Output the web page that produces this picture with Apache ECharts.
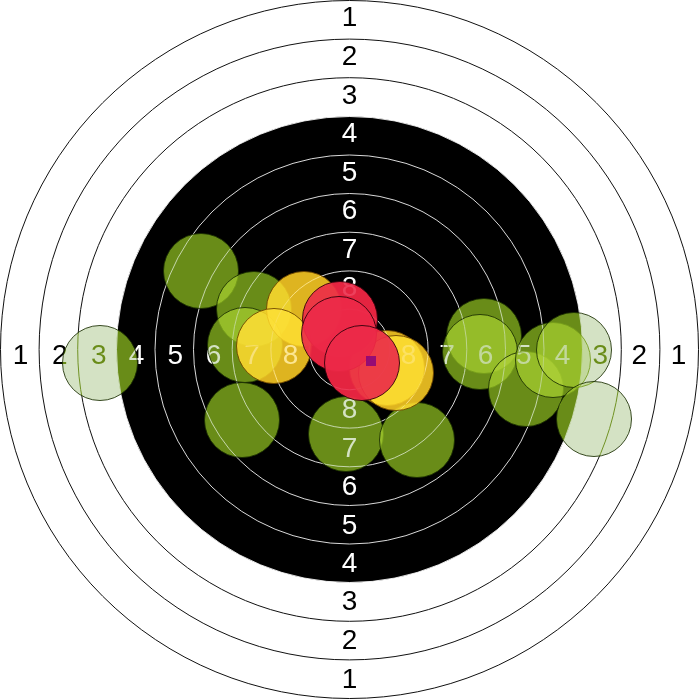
<!DOCTYPE html>
<html>
<head>
<meta charset="utf-8">
<script src="https://cdn.jsdelivr.net/npm/echarts/dist/echarts.min.js"></script>
<style>
html,body{margin:0;padding:0;background:#fff;}
#chart{width:700px;height:700px;}
</style>
</head>
<body>
<div id="chart"></div>
<script>
// ---- target geometry (target units, centre = 0,0) ----
const ringScores = [1, 2, 3, 4, 5, 6, 7, 8, 9];
const ringRadii = [349, 310.4, 271.8, 233, 194.5, 156, 117.3, 78.6, 40.3];
const blackRadius = 233;
const labelScores = ['1', '2', '3', '4', '5', '6', '7', '8'];
const labelRadii = [329, 289.8, 250.8, 213, 174.3, 136, 97.5, 59];

// ---- shots (x right, y up) ----
const greenShots = [
  [-148.5, 78.5], [-95.5, 40.5], [-104.5, 4.5], [-107.5, -70.5],
  [-3.5, -84.5], [67.5, -90.5], [134.5, 13.5], [130.5, -2.5],
  [176.5, -39.5], [203.5, -10.5],
  [-249.5, -13.5], [224.5, -0.5], [244.5, -69.5]
];
const yellowShots = [[-45.5, 40.5], [-75.5, 3.5], [37.5, -18.5], [46.5, -23.5]];
const redShots = [[-9.5, 30.5], [-10.5, 15.5], [12.5, -13.5]];
const meanPoint = [21.5, -11.5];
const shotRadius = 37.5;

const chart = echarts.init(document.getElementById('chart'), null, {renderer: 'canvas'});

function centre(api) { return api.coord([0, 0]); }

function renderDisk(params, api) {
  const c = centre(api);
  const r = api.size([api.value(0), 0])[0];
  return {type: 'circle', shape: {cx: c[0], cy: c[1], r: r}, style: {fill: '#000'}};
}

function renderRing(params, api) {
  const c = centre(api);
  const rv = api.value(0);
  const r = api.size([rv, 0])[0];
  const stroke = rv > blackRadius + 1 ? '#111' : 'rgba(255,255,255,0.85)';
  return {type: 'circle', shape: {cx: c[0], cy: c[1], r: r}, style: {fill: 'none', stroke: stroke, lineWidth: 1}};
}

function renderLabels(params, api) {
  const c = centre(api);
  const rv = api.value(0);
  const r = api.size([rv, 0])[0];
  const text = labelScores[params.dataIndex];
  const fill = rv > blackRadius ? '#000' : '#fff';
  const mk = (x, y) => ({
    type: 'text', x: x, y: y,
    style: {text: text, fill: fill, fontSize: 28, fontFamily: 'Liberation Sans, Arial, sans-serif',
            align: 'center', verticalAlign: 'middle'}
  });
  return {type: 'group', children: [
    mk(c[0] - r, c[1] + 7), mk(c[0] + r, c[1] + 7),
    mk(c[0], c[1] - r - 2), mk(c[0], c[1] + r + 2)
  ]};
}

function fillRenderer(color) {
  return function (params, api) {
    const p = api.coord([api.value(0), api.value(1)]);
    const r = api.size([shotRadius, 0])[0];
    return {type: 'circle', shape: {cx: p[0], cy: p[1], r: r}, style: {fill: color}};
  };
}
function strokeRenderer(color) {
  return function (params, api) {
    const p = api.coord([api.value(0), api.value(1)]);
    const r = api.size([shotRadius, 0])[0];
    return {type: 'circle', shape: {cx: p[0], cy: p[1], r: r}, style: {fill: 'none', stroke: color, lineWidth: 1}};
  };
}
// each shot: multiply layer (tint), additive layer (colour), outline
function shotSeries(shots, k, o, stroke) {
  const out = [];
  shots.forEach(function (s) {
    out.push({type: 'custom', silent: true, blendMode: 'multiply', renderItem: fillRenderer(k), data: [s]});
    out.push({type: 'custom', silent: true, blendMode: 'lighter', renderItem: fillRenderer(o), data: [s]});
    out.push({type: 'custom', silent: true, renderItem: strokeRenderer(stroke), data: [s]});
  });
  return out;
}

const series = [
  {type: 'custom', silent: true, renderItem: renderDisk, data: [[blackRadius, 0]]},
  {type: 'custom', silent: true, renderItem: renderRing, data: ringRadii.map(r => [r, 0])},
  {type: 'custom', silent: true, renderItem: renderLabels, data: labelRadii.map(r => [r, 0])}
].concat(
  shotSeries(greenShots, 'rgb(107,86,172)', 'rgb(105,140,24)', 'rgba(25,45,0,0.85)'),
  shotSeries(yellowShots, 'rgb(30,50,115)', 'rgb(222,180,32)', 'rgba(110,70,0,0.9)'),
  shotSeries(redShots, 'rgb(8,28,28)', 'rgb(228,36,64)', 'rgba(50,0,10,0.9)'),
  [{type: 'scatter', silent: true, symbol: 'rect', symbolSize: 10, itemStyle: {color: '#800080'}, data: [meanPoint]}]
);

chart.setOption({
  backgroundColor: '#fff',
  animation: false,
  grid: {left: 0, right: 0, top: 0, bottom: 0},
  xAxis: {type: 'value', min: -349.5, max: 350.5, show: false},
  yAxis: {type: 'value', min: -350.5, max: 349.5, show: false},
  series: series
});
</script>
</body>
</html>
